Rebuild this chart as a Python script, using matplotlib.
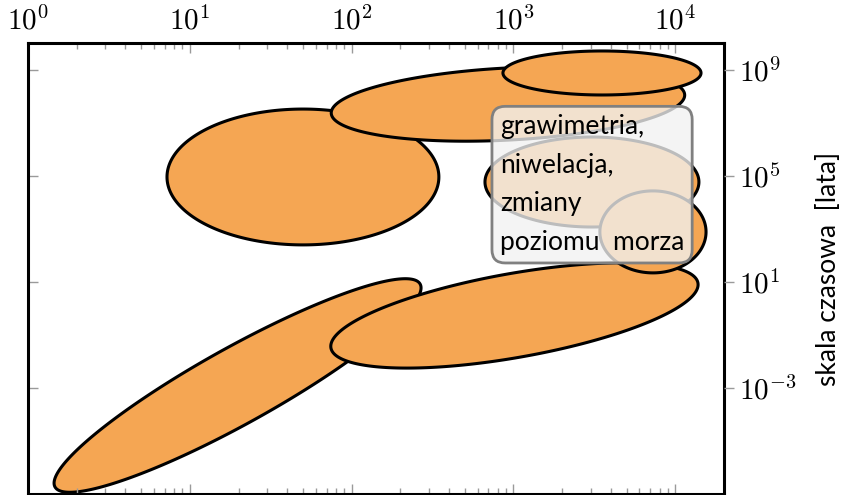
import numpy as np
import matplotlib.pyplot as plt
from matplotlib.ticker import LogLocator, NullLocator, FuncFormatter, FixedLocator

plt.rcParams['mathtext.fontset'] = 'cm'
plt.rcParams['font.family'] = ['Lato', 'DejaVu Sans']

# --- data: ellipses in log10 space (decades) ---
# centres
log_cx = [1.295, 3.006, 1.699, 2.966, 3.547, 3.485, 3.862]
log_cy = [-2.91, -0.27, 4.95, 7.70, 8.87, 4.76, 2.88]
# first semi-axis vector
u_dx = [1.128, 1.134, 0.840, 1.092, 0.612, 0.661, 0.328]
u_dy = [3.826, 1.225, 0.0, 0.35, 0.0, 0.0, 0.0]
# second semi-axis vector
v_dx = [0.115, 0.045, 0.0, 0.012, 0.0, 0.0, 0.0]
v_dy = [-1.25, -1.56, 2.56, -1.357, 0.829, 1.696, 1.545]

x_ticks = [1e0, 1e1, 1e2, 1e3, 1e4]
y_ticks = [1e-3, 1e1, 1e5, 1e9]
box_text = "grawimetria,\nniwelacja,\nzmiany\npoziomu  morza"
ylabel = "skala czasowa  [lata]"

orange = '#F5A653'
tick_gray = '#9a9a9a'

fig = plt.figure(figsize=(8.47, 4.95), dpi=100)
ax = fig.add_axes([28 / 847, 1 / 495, 696 / 847, 451 / 495])
ax.set_xscale('log')
ax.set_yscale('log')
ax.set_xlim(1, 2e4)
ax.set_ylim(1e-7, 1e10)

t = np.linspace(0, 2 * np.pi, 400)
for i in range(len(log_cx)):
    lx = log_cx[i] + u_dx[i] * np.cos(t) + v_dx[i] * np.sin(t)
    ly = log_cy[i] + u_dy[i] * np.cos(t) + v_dy[i] * np.sin(t)
    ax.fill(10 ** lx, 10 ** ly, facecolor=orange, edgecolor='black', linewidth=2.2, zorder=1)

fmt = FuncFormatter(lambda v, p: r'$10^{%d}$' % round(np.log10(v)))

# x axis: labels on top, ticks inside on both sides
ax.xaxis.set_major_locator(FixedLocator(x_ticks))
ax.xaxis.set_minor_locator(LogLocator(base=10, subs=np.arange(2, 10)))
ax.xaxis.set_major_formatter(fmt)
ax.tick_params(axis='x', which='both', direction='in', top=True, bottom=True,
               labeltop=True, labelbottom=False, color=tick_gray, width=1, pad=6)
ax.tick_params(axis='x', which='major', length=7)
ax.tick_params(axis='x', which='minor', length=4)
ax.tick_params(axis='x', labelsize=21)

# y axis: inward ticks on the left, no labels
ax.yaxis.set_major_locator(FixedLocator(y_ticks))
ax.yaxis.set_minor_locator(NullLocator())
ax.tick_params(axis='y', which='major', direction='in', left=True, right=False,
               labelleft=False, length=7, color=tick_gray, width=1)

for s in ax.spines.values():
    s.set_linewidth(2.2)
    s.set_color('black')

# right axis with outward ticks and labels
ax2 = ax.twinx()
ax2.set_yscale('log')
ax2.set_ylim(ax.get_ylim())
ax2.yaxis.set_major_locator(FixedLocator(y_ticks))
ax2.yaxis.set_minor_locator(NullLocator())
ax2.yaxis.set_major_formatter(fmt)
ax2.tick_params(axis='y', which='major', direction='out', length=7, color=tick_gray,
                width=1, labelsize=21, pad=4)
for s in ax2.spines.values():
    s.set_visible(False)
ax2.set_ylabel(ylabel, fontsize=19, labelpad=14)

ax.text(0.678, 0.842, box_text, transform=ax.transAxes, ha='left', va='top',
        fontsize=19, linespacing=1.68, zorder=5,
        bbox=dict(boxstyle='round,pad=0.3,rounding_size=0.5',
                  facecolor=(0.95, 0.95, 0.95, 0.78), edgecolor='#808080', linewidth=2))

fig.savefig('out.png', dpi=100)
